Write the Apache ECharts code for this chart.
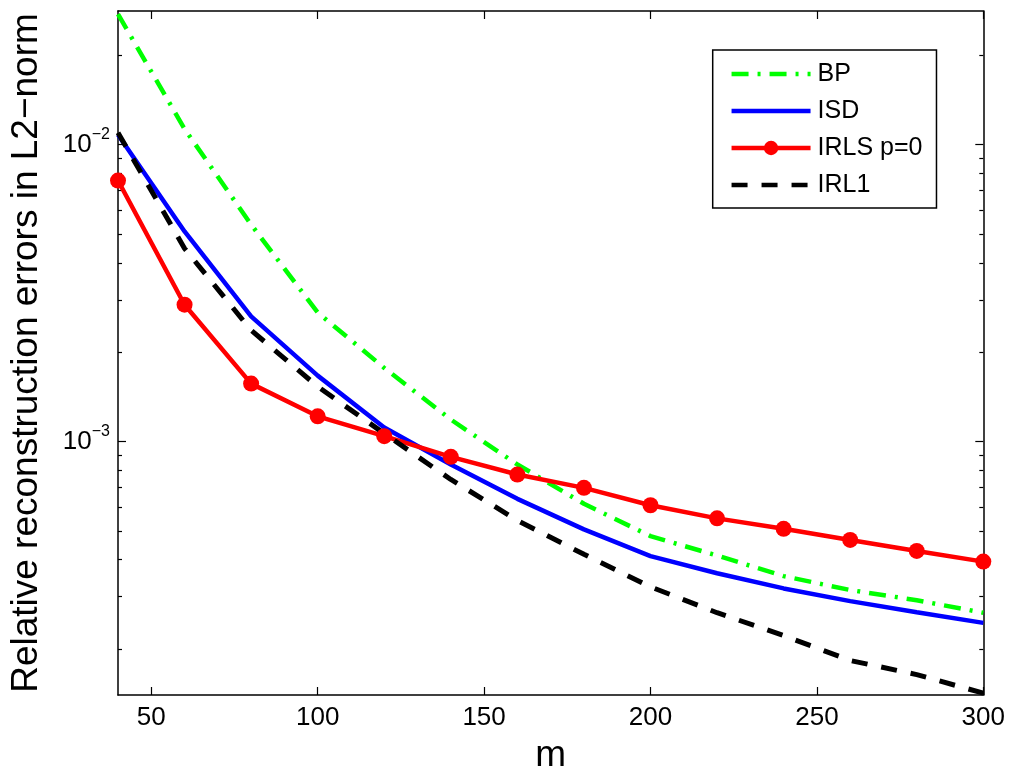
<!DOCTYPE html>
<html><head><meta charset="utf-8">
<script src="https://cdn.jsdelivr.net/npm/echarts@6/dist/echarts.min.js"></script>
<style>html,body{margin:0;padding:0;background:#fff}#c{width:1013px;height:779px}</style>
</head><body><div id="c"></div>
<script>
// ---- data ----
const mValues = [40, 60, 80, 100, 120, 140, 160, 180, 200, 220, 240, 260, 280, 300];
const bpErr   = [2.75e-2, 1.13e-2, 5.38e-3, 2.72e-3, 1.77e-3, 1.186e-3, 8.37e-4, 6.17e-4, 4.80e-4, 4.13e-4, 3.52e-4, 3.16e-4, 2.92e-4, 2.65e-4];
const isdErr  = [1.08e-2, 5.10e-3, 2.64e-3, 1.667e-3, 1.115e-3, 8.37e-4, 6.41e-4, 5.06e-4, 4.11e-4, 3.60e-4, 3.20e-4, 2.90e-4, 2.66e-4, 2.45e-4];
const irlsErr = [7.57e-3, 2.89e-3, 1.567e-3, 1.216e-3, 1.042e-3, 8.88e-4, 7.74e-4, 6.98e-4, 6.10e-4, 5.51e-4, 5.08e-4, 4.66e-4, 4.28e-4, 3.94e-4];
const irl1Err = [1.097e-2, 4.47e-3, 2.37e-3, 1.531e-3, 1.064e-3, 7.45e-4, 5.42e-4, 4.17e-4, 3.24e-4, 2.65e-4, 2.22e-4, 1.83e-4, 1.64e-4, 1.42e-4];
const seriesNames = ['BP', 'ISD', 'IRLS p=0', 'IRL1'];
const seriesHasMarker = [false, false, true, false];
const xTicks = [50, 100, 150, 200, 250, 300];
const yMajorTicks = [1e-3, 1e-2];
const yMinorTicks = [2e-4, 3e-4, 4e-4, 5e-4, 6e-4, 7e-4, 8e-4, 9e-4,
                     2e-3, 3e-3, 4e-3, 5e-3, 6e-3, 7e-3, 8e-3, 9e-3, 2e-2];
const xRange = [40, 300];
const yRange = [1.40e-4, 0.0282];
const xTitle = 'm';
const yTitle = 'Relative reconstruction errors in L2\u2212norm';

// ---- chart ----
const FONT = 'Liberation Sans, Arial, Helvetica, sans-serif';
const chart = echarts.init(document.getElementById('c'), null, {renderer: 'canvas'});
const pair = (ys) => mValues.map((m, i) => [m, ys[i]]);
const axisLine = {show: true, lineStyle: {color: '#000', width: 1.5}};

function logLabel(v) {
  const e = Math.round(Math.log10(v));
  return '{b|10}{s|' + (e < 0 ? '\u2212' : '') + Math.abs(e) + '}';
}

function yAx(pos, ticks, len, labels, line) {
  return {
    type: 'log', logBase: 10, position: pos, min: yRange[0], max: yRange[1],
    axisLine: line ? axisLine : {show: false},
    splitLine: {show: false},
    axisTick: {show: true, inside: true, length: len, customValues: ticks,
               lineStyle: {color: '#000', width: 1.2}},
    axisLabel: labels ? {
      show: true, customValues: ticks, margin: 8, formatter: logLabel,
      rich: {
        b: {fontSize: 26, fontFamily: FONT, color: '#000', lineHeight: 36},
        s: {fontSize: 16, fontFamily: FONT, color: '#000', verticalAlign: 'top', lineHeight: 16}
      }
    } : {show: false},
    name: labels ? yTitle : '',
    nameLocation: 'middle', nameGap: 73,
    nameTextStyle: {fontSize: 37, fontFamily: FONT, color: '#000'}
  };
}

function xAx(pos, labels) {
  return {
    type: 'value', position: pos, min: xRange[0], max: xRange[1],
    axisLine: axisLine, splitLine: {show: false},
    axisTick: {show: true, inside: true, length: 8, customValues: xTicks,
               lineStyle: {color: '#000', width: 1.2}},
    axisLabel: labels ? {show: true, customValues: xTicks, margin: 10,
      fontSize: 26, fontFamily: FONT, color: '#000'} : {show: false},
    name: labels ? xTitle : '',
    nameLocation: 'middle', nameGap: 42,
    nameTextStyle: {fontSize: 37, fontFamily: FONT, color: '#000'}
  };
}

const legendData = seriesNames.map((n, i) => seriesHasMarker[i]
  ? {name: n}
  : {name: n, itemStyle: {opacity: 0}});

const option = {
  animation: false,
  backgroundColor: '#fff',
  grid: {left: 116.7, right: 29.7, top: 11, bottom: 83.3, containLabel: false},
  xAxis: [xAx('bottom', true), xAx('top', false)],
  yAxis: [
    yAx('left', yMajorTicks, 8, true, true),
    yAx('left', yMinorTicks, 4, false, false),
    yAx('right', yMajorTicks, 8, false, true),
    yAx('right', yMinorTicks, 4, false, false)
  ],
  legend: {
    orient: 'vertical', left: 712.7, top: 50,
    data: legendData,
    itemWidth: 79, itemHeight: 18, itemGap: 11,
    padding: [11, 14, 10, 16.6],
    backgroundColor: '#fff', borderColor: '#000', borderWidth: 1.5, borderRadius: 0,
    textStyle: {fontSize: 25, fontFamily: FONT, color: '#000', lineHeight: 26, padding: [0, 0, 0, 2]},
    lineStyle: {width: 4.5},
    selectedMode: false
  },
  series: [
    {name: seriesNames[0], type: 'line', data: pair(bpErr), symbol: 'none',
     color: '#00ff00', lineStyle: {color: '#00ff00', width: 4.5, type: [17, 9, 3, 9]}},
    {name: seriesNames[1], type: 'line', data: pair(isdErr), symbol: 'none',
     color: '#0000ff', lineStyle: {color: '#0000ff', width: 4.5}},
    {name: seriesNames[2], type: 'line', data: pair(irlsErr), symbol: 'circle', symbolSize: 16,
     showSymbol: true, color: '#ff0000', itemStyle: {color: '#ff0000'},
     lineStyle: {color: '#ff0000', width: 4.5}},
    {name: seriesNames[3], type: 'line', data: pair(irl1Err), symbol: 'none',
     color: '#000000', lineStyle: {color: '#000000', width: 5, type: [16, 14]}}
  ]
};
chart.setOption(option);
</script>
</body></html>
